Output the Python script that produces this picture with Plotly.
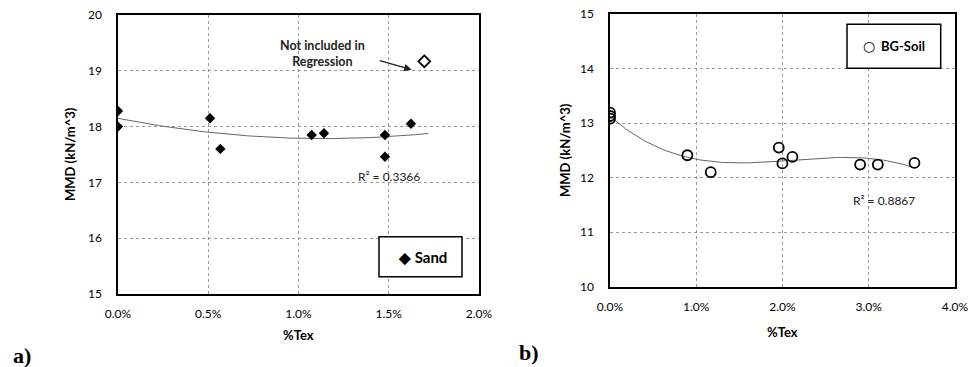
import numpy as np
import plotly.graph_objects as go

# ---------------- data ----------------
# (a) Sand
sand_tex = [0.0, 0.0, 0.51, 0.567, 1.073, 1.141, 1.479, 1.479, 1.623]
sand_mmd = [18.28, 18.0, 18.15, 17.6, 17.85, 17.88, 17.85, 17.46, 18.05]
sand_excl_tex = [1.697]
sand_excl_mmd = [19.17]

# (b) BG-Soil
bg_tex = [0.0, 0.0, 0.0, 0.897, 1.168, 1.957, 1.999, 2.115, 2.90, 3.105, 3.53]
bg_mmd = [13.08, 13.13, 13.19, 12.41, 12.10, 12.55, 12.26, 12.38, 12.24, 12.24, 12.27]

a_ticks = [0.0, 0.5, 1.0, 1.5, 2.0]
a_ticktext = ["0.0%", "0.5%", "1.0%", "1.5%", "2.0%"]
b_ticks = [0.0, 1.0, 2.0, 3.0, 4.0]
b_ticktext = ["0.0%", "1.0%", "2.0%", "3.0%", "4.0%"]
a_yticks = [15, 16, 17, 18, 19, 20]
b_yticks = [10, 11, 12, 13, 14, 15]

r2_a = "R² = 0.3366"
r2_b = "R² = 0.8867"

# ---------------- trendlines (polynomial regression) ----------------
ca = np.polyfit(sand_tex, sand_mmd, 2)
xa = np.linspace(0, 1.72, 100)
ya = np.polyval(ca, xa)
cb = np.polyfit(bg_tex, bg_mmd, 3)
xb = np.linspace(0, 3.53, 100)
yb = np.polyval(cb, xb)

W, H = 970, 367
def px(x): return x / W
def py(y): return 1 - y / H

FONT = "Lato, 'Open Sans', sans-serif"

fig = go.Figure()

# Left panel
fig.add_trace(go.Scatter(x=xa, y=ya, mode="lines", line=dict(color="#666", width=1),
                         xaxis="x", yaxis="y", showlegend=False, hoverinfo="skip"))
fig.add_trace(go.Scatter(x=sand_tex, y=sand_mmd, mode="markers", name="Sand",
                         marker=dict(symbol="diamond", size=8, color="black"),
                         xaxis="x", yaxis="y", showlegend=False))
fig.add_trace(go.Scatter(x=sand_excl_tex, y=sand_excl_mmd, mode="markers",
                         marker=dict(symbol="diamond-open", size=9, color="black", line=dict(width=1.8)),
                         xaxis="x", yaxis="y", showlegend=False))

# Right panel
fig.add_trace(go.Scatter(x=xb, y=yb, mode="lines", line=dict(color="#666", width=1),
                         xaxis="x2", yaxis="y2", showlegend=False, hoverinfo="skip"))
fig.add_trace(go.Scatter(x=bg_tex, y=bg_mmd, mode="markers", name="BG-Soil",
                         marker=dict(symbol="circle-open", size=10, color="black", line=dict(width=1.8)),
                         xaxis="x2", yaxis="y2", showlegend=False))

axis_common = dict(showline=True, linecolor="black", linewidth=1.5, mirror=True,
                   showgrid=True, gridcolor="#999", gridwidth=1, griddash="dot",
                   zeroline=False, ticks="", automargin=False,
                   tickfont=dict(family=FONT, size=12, color="black"))

fig.update_layout(
    template="none",
    width=W, height=H, margin=dict(l=0, r=0, t=0, b=0),
    paper_bgcolor="white", plot_bgcolor="white",
    xaxis=dict(domain=[px(118), px(479)], range=[0, 2.0], tickvals=a_ticks, ticktext=a_ticktext,
               anchor="y", ticklabelstandoff=8, **axis_common),
    yaxis=dict(domain=[py(294), py(15)], range=[15, 20], tickvals=a_yticks,
               anchor="x", ticklabelstandoff=12, **axis_common),
    xaxis2=dict(domain=[px(610), px(955)], range=[0, 4.0], tickvals=b_ticks, ticktext=b_ticktext,
                anchor="y2", ticklabelstandoff=8, **axis_common),
    yaxis2=dict(domain=[py(286.7), py(14)], range=[10, 15], tickvals=b_yticks,
                anchor="x2", ticklabelstandoff=12, **axis_common),
)

ann = []
shapes = [
    dict(type="rect", xref="paper", yref="paper", x0=px(379), x1=px(462), y0=py(276.7), y1=py(236.7),
         line=dict(color="black", width=1.5), fillcolor="white", layer="above"),
    dict(type="rect", xref="paper", yref="paper", x0=px(847), x1=px(940.7), y0=py(68.3), y1=py(24.3),
         line=dict(color="black", width=1.5), fillcolor="white", layer="above"),
]
def A(**k):
    k.setdefault("xref", "paper"); k.setdefault("yref", "paper")
    k.setdefault("xanchor", "center"); k.setdefault("yanchor", "middle")
    k.setdefault("showarrow", False)
    ann.append(k)

# axis titles
TF = dict(family=FONT, size=13, color="black")
A(x=px(298), y=py(335), text="<b>%Tex</b>", font=TF)
A(x=px(782), y=py(332), text="<b>%Tex</b>", font=TF)
A(x=px(70), y=py(154), text="<b>MMD (kN/m^3)</b>", font=TF, textangle=-90)
A(x=px(565), y=py(150), text="<b>MMD (kN/m^3)</b>", font=TF, textangle=-90)

A(x=px(422), y=py(256.7), text="<b>◆ Sand</b>", font=dict(family=FONT, size=15, color="black"))
A(x=px(869), y=py(46.3), text="○", font=dict(family="DejaVu Sans", size=14, color="black"))
A(x=px(903), y=py(46.3), text="<b>BG-Soil</b>", font=dict(family=FONT, size=13, color="black"))
A(x=px(389), y=py(176), text=r2_a, font=dict(family=FONT, size=12, color="#222"))
A(x=px(884), y=py(200), text=r2_b, font=dict(family=FONT, size=12, color="#222"))
A(x=px(322), y=py(53), text="<b>Not included in<br>Regression</b>", font=dict(family=FONT, size=12.5, color="#222"))
ann.append(dict(xref="x", yref="y", x=1.627, y=19.02, axref="x", ayref="y", ax=1.442, ay=19.19,
                text="", showarrow=True, arrowhead=2, arrowsize=1, arrowwidth=1.5, arrowcolor="#222"))
A(x=px(22), y=py(355), text="<b>a)</b>", font=dict(family="Liberation Serif, serif", size=22, color="black"))
A(x=px(529), y=py(352), text="<b>b)</b>", font=dict(family="Liberation Serif, serif", size=22, color="black"))

fig.update_layout(annotations=ann, shapes=shapes)
fig.write_html("out.html", config={"displayModeBar": False},
               post_script="document.body.style.margin='0';document.body.style.overflow='hidden';")
